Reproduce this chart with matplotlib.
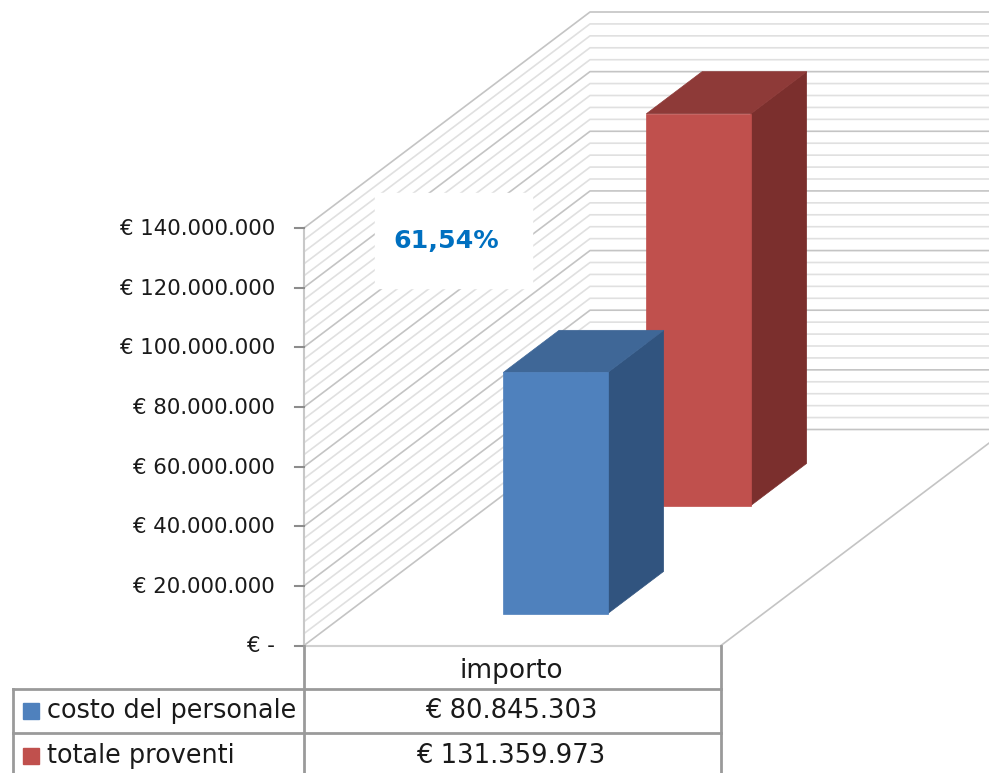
import matplotlib
matplotlib.use("Agg")
import matplotlib.pyplot as plt
from matplotlib.patches import Polygon, Rectangle

# data
series = ["costo del personale", "totale proventi"]
values = [80845303, 131359973]
value_labels = ["€ 80.845.303", "€ 131.359.973"]
category = "importo"
tick_values = [0, 20000000, 40000000, 60000000, 80000000, 100000000, 120000000, 140000000]
tick_labels = ["€ -", "€ 20.000.000", "€ 40.000.000", "€ 60.000.000", "€ 80.000.000",
               "€ 100.000.000", "€ 120.000.000", "€ 140.000.000"]
ratio_label = "61,54%"

front_colors = ["#4F81BD", "#C0504D"]
top_colors = ["#3F6797", "#8E3A38"]
side_colors = ["#31547F", "#7B2F2D"]

# 3D projection, all in pixels of the picture
X0, Y0 = 304, 645.5
DX, DY = 286, 216
PX_PER_UNIT = (645.5 - 228) / 140000000
BAR_X, BAR_W = 461, 104.5
BAR_DEPTH = 0.195
bar_starts = [0.148, 0.648]


def proj(x, v, d):
    return (x + d * DX, Y0 - v * PX_PER_UNIT - d * DY)


plt.rcParams["font.family"] = ["DejaVu Sans"]
fig = plt.figure(figsize=(9.89, 7.73), dpi=100)
ax = fig.add_axes([0, 0, 1, 1])
ax.set_xlim(0, 989)
ax.set_ylim(773, 0)
ax.axis("off")

# gridlines on side wall and back wall
step = 4000000
for i in range(0, 36):
    v = i * step
    major = i % 5 == 0
    col = "#c4c4c4" if major else "#e0e0e0"
    p0 = proj(X0, v, 0)
    p1 = proj(X0, v, 1)
    ax.plot([p0[0], p1[0], 989], [p0[1], p1[1], p1[1]], color=col, lw=1.2, zorder=1)

# floor edges
end = proj(X0 + 417, 0, 0)
ax.plot([X0, end[0]], [Y0, Y0], color="#d0d0d0", lw=1.5, zorder=1)
ax.plot([end[0], end[0] + 268], [end[1], end[1] - 268 * DY / DX], color="#c4c4c4", lw=1.2, zorder=1)

# percentage box
ax.add_patch(Rectangle((375, 193), 157, 95, color="white", zorder=2))
ax.text(446.5, 241, ratio_label, color="#0070C0", fontsize=18.2, fontweight="bold",
        ha="center", va="center", zorder=3)

# bars, back one first
for i in [1, 0]:
    v = values[i]
    d0 = bar_starts[i]
    d1 = d0 + BAR_DEPTH
    xl, xr = BAR_X, BAR_X + BAR_W
    front = [proj(xl, 0, d0), proj(xr, 0, d0), proj(xr, v, d0), proj(xl, v, d0)]
    top = [proj(xl, v, d0), proj(xr, v, d0), proj(xr, v, d1), proj(xl, v, d1)]
    side = [proj(xr, 0, d0), proj(xr, 0, d1), proj(xr, v, d1), proj(xr, v, d0)]
    z = 5 - i
    ax.add_patch(Polygon(side, facecolor=side_colors[i], edgecolor=side_colors[i], lw=0.5, zorder=z))
    ax.add_patch(Polygon(top, facecolor=top_colors[i], edgecolor=top_colors[i], lw=0.5, zorder=z))
    ax.add_patch(Polygon(front, facecolor=front_colors[i], edgecolor=front_colors[i], lw=0.5, zorder=z))

# y axis
ax.plot([X0, X0], [228, Y0], color="#c8c8c8", lw=1.5, zorder=2)
for v, lab in zip(tick_values, tick_labels):
    y = Y0 - v * PX_PER_UNIT
    ax.plot([295, X0], [y, y], color="#8c8c8c", lw=1.5, zorder=2)
    ax.text(275, y + 1, lab, ha="right", va="center", fontsize=15.3, color="#1a1a1a")

# data table
tc = "#9a9a9a"
ax.plot([X0, X0], [Y0, 773], color=tc, lw=2, zorder=2)
ax.plot([721, 721], [Y0, 773], color=tc, lw=2, zorder=2)
ax.plot([13, 13], [689, 773], color=tc, lw=2, zorder=2)
ax.plot([13, 721], [689, 689], color=tc, lw=2, zorder=2)
ax.plot([13, 721], [733, 733], color=tc, lw=2, zorder=2)
ax.text(511.5, 671, category, ha="center", va="center", fontsize=19, color="#1a1a1a")
row_y = [711, 756]
for i in range(2):
    ax.add_patch(Rectangle((23, row_y[i] - 8), 16, 16, color=front_colors[i], zorder=3))
    ax.text(47, row_y[i], series[i], ha="left", va="center", fontsize=18.4, color="#1a1a1a")
    ax.text(511, row_y[i], value_labels[i], ha="center", va="center", fontsize=18.6, color="#1a1a1a")

fig.savefig("out.png", dpi=100)
